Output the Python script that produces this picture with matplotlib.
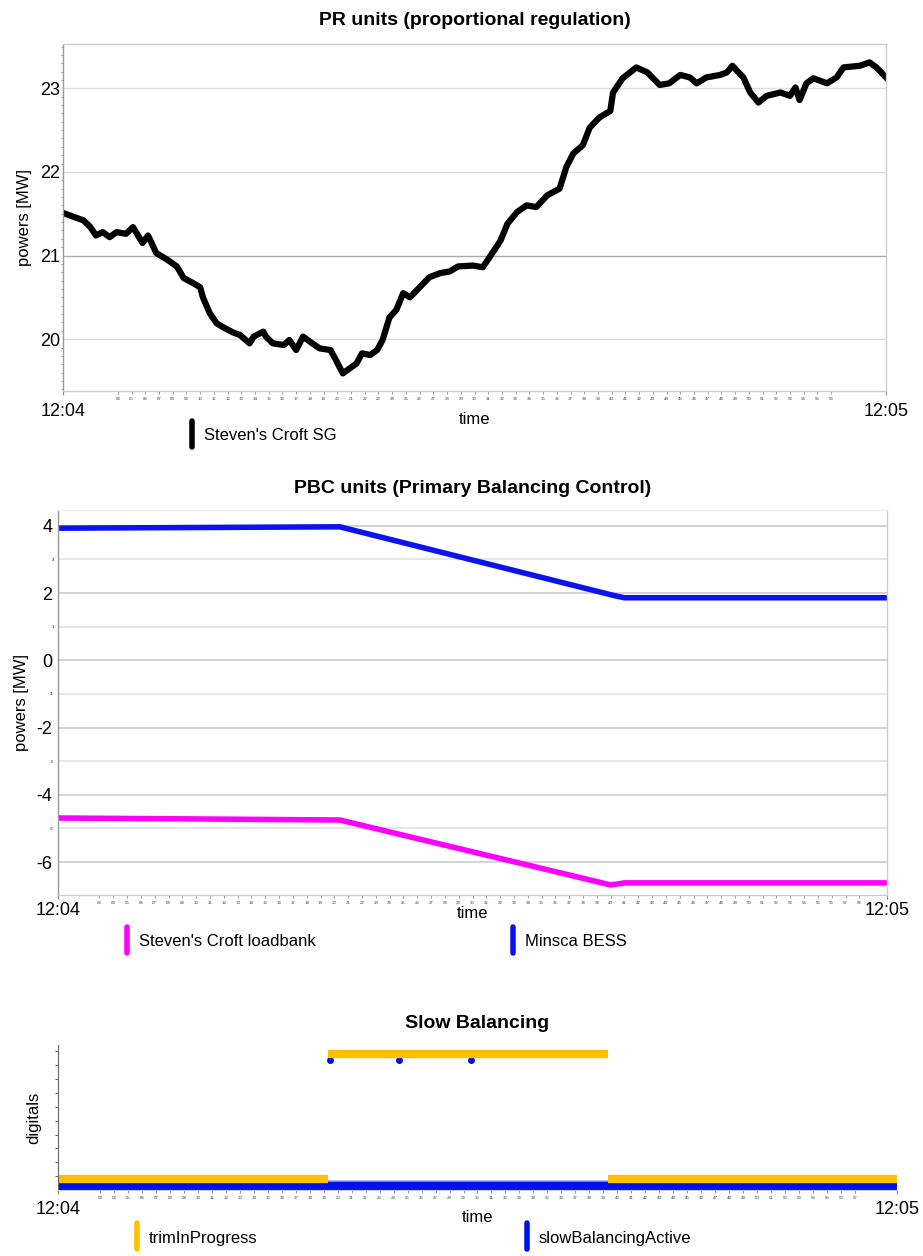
import matplotlib
matplotlib.use("Agg")
import matplotlib.pyplot as plt
from matplotlib.lines import Line2D
import numpy as np

plt.rcParams['font.family'] = ['Liberation Sans', 'DejaVu Sans']
plt.rcParams['axes.unicode_minus'] = False

# --- data (seconds after 12:04) ---
pr_t = [0, 1, 1.5, 2, 2.4, 2.9, 3.4, 3.9, 4.6, 5.1, 5.8, 6.2, 6.8, 7.6, 8.3, 8.8,
        9.5, 10, 10.2, 10.7, 11.2, 11.7, 12.4, 12.9, 13.6, 13.9, 14.6, 14.8, 15.3,
        16.1, 16.5, 17, 17.5, 18, 18.7, 19.5, 19.9, 20.4, 20.9, 21.4, 21.8, 22.4,
        22.9, 23.3, 23.8, 24.3, 24.8, 25.3, 26, 26.7, 27.5, 28.2, 28.8, 29.9, 30.6,
        31.1, 31.9, 32.4, 33.1, 33.8, 34.5, 35.3, 36.2, 36.7, 37.2, 37.9, 38.4,
        39.1, 39.9, 40.1, 40.8, 41.8, 42.6, 43.5, 44.2, 45, 45.7, 46.2, 46.9, 47.9,
        48.4, 48.8, 49.6, 50.1, 50.7, 51.3, 52.3, 53, 53.4, 53.7, 54.2, 54.7, 55.7,
        56.4, 56.9, 58.1, 58.8, 59.3, 60]
pr_sg = [21.51, 21.45, 21.42, 21.34, 21.24, 21.28, 21.22, 21.28, 21.26, 21.34,
         21.15, 21.24, 21.03, 20.95, 20.87, 20.73, 20.67, 20.62, 20.50, 20.31,
         20.19, 20.14, 20.08, 20.05, 19.95, 20.03, 20.09, 20.03, 19.95, 19.93,
         19.99, 19.87, 20.03, 19.97, 19.89, 19.87, 19.75, 19.59, 19.65, 19.71,
         19.83, 19.81, 19.87, 19.99, 20.26, 20.35, 20.55, 20.50, 20.62, 20.74,
         20.79, 20.81, 20.87, 20.88, 20.86, 20.98, 21.18, 21.38, 21.52, 21.60,
         21.58, 21.72, 21.80, 22.06, 22.22, 22.32, 22.53, 22.65, 22.73, 22.95,
         23.12, 23.25, 23.19, 23.04, 23.06, 23.16, 23.13, 23.06, 23.13, 23.16,
         23.19, 23.27, 23.13, 22.95, 22.83, 22.91, 22.95, 22.91, 23.01, 22.86,
         23.06, 23.12, 23.06, 23.13, 23.25, 23.27, 23.31, 23.25, 23.13]

pbc_t = [0, 10.5, 20.4, 40.3, 41.0, 60]
bess = [3.93, 3.95, 3.97, 1.92, 1.86, 1.86]
loadbank_t = [0, 10.5, 20.4, 40.0, 41.0, 60]
loadbank = [-4.69, -4.72, -4.75, -6.68, -6.62, -6.62]

trim_t = [0, 19.3, 39.3, 60]       # segment edges
trim_v = [0, 1, 0]                 # value within each segment
sba_t = [0, 60]
sba_v = [0, 0]
sba_pulse_t = [19.45, 24.4, 29.5]
sba_pulse_v = [1, 1, 1]

W, H = 923, 1256
fig = plt.figure(figsize=(W / 100, H / 100), dpi=100)


def fx(px):
    return px / W


def fy(py):
    return 1 - py / H


def time_axis(ax, first, last, pad, labelpad):
    ax.set_xlim(0, 60)
    ax.set_xticks([0, 60], ['12:04', '12:05'])
    secs = list(range(first, last + 1))
    ax.set_xticks(secs, ['%02d' % s for s in secs], minor=True)
    ax.tick_params(axis='x', which='major', labelsize=13, pad=pad, length=3,
                   color='#888888')
    ax.tick_params(axis='x', which='minor', labelsize=3.2, pad=2, length=2,
                   color='#888888', labelcolor='#444444')
    ax.set_xlabel('time', fontsize=12, labelpad=labelpad)


def frame(ax, color='#cccccc'):
    for s in ax.spines.values():
        s.set_color(color)
        s.set_linewidth(1)
    ax.spines['left'].set_color('#999999')
    ax.spines['left'].set_linestyle((0, (1, 1)))


def legend_item(x, y, color, text):
    fig.add_artist(Line2D([fx(x), fx(x)], [fy(y - 13), fy(y + 13)],
                          color=color, lw=4, solid_capstyle='round',
                          transform=fig.transFigure))
    fig.text(fx(x + 12), fy(y + 2), text, fontsize=12, va='center', ha='left')


# --- panel 1 ---
ax1 = fig.add_axes([fx(63), fy(391), fx(886 - 63), (391 - 44) / H])
ax1.plot(pr_t, pr_sg, color='black', lw=4.5, solid_joinstyle='round')
ax1.set_ylim(19.38, 23.53)
ax1.set_yticks([20, 21, 22, 23])
ax1.set_yticks(np.arange(19.4, 23.55, 0.1), minor=True)
ax1.tick_params(axis='y', which='major', labelsize=13, length=0, pad=2)
ax1.tick_params(axis='y', which='minor', length=1.5, color='#888888')
for v in [20, 21, 22, 23]:
    ax1.axhline(v, color='#aaaaaa' if v == 21 else '#dddddd', lw=1, zorder=0)
ax1.set_ylabel('powers [MW]', fontsize=12, labelpad=6)
time_axis(ax1, 4, 56, 6, -6)
frame(ax1)
ax1.set_title('PR units (proportional regulation)', fontsize=14,
              fontweight='bold', pad=14)
legend_item(192, 434, 'black', "Steven's Croft SG")

# --- panel 2 ---
ax2 = fig.add_axes([fx(58), fy(895), fx(887 - 58), (895 - 510) / H])
ax2.plot(pbc_t, bess, color='#0a14f0', lw=4)
ax2.plot(loadbank_t, loadbank, color='#ff00ff', lw=4)
ax2.set_ylim(-6.98, 4.47)
ax2.set_yticks([-6, -4, -2, 0, 2, 4])
ax2.set_yticks([-5, -3, -1, 1, 3], ['-5', '-3', '-1', '1', '3'], minor=True)
ax2.tick_params(axis='y', which='major', labelsize=13, length=0, pad=4)
ax2.tick_params(axis='y', which='minor', labelsize=3, length=0, pad=3)
for v in range(-6, 5):
    ax2.axhline(v, color='#cccccc' if v % 2 == 0 else '#e2e2e2', lw=1.2,
                zorder=0)
ax2.set_ylabel('powers [MW]', fontsize=12, labelpad=5)
time_axis(ax2, 3, 58, 2, -9)
frame(ax2)
ax2.spines['top'].set_color('#eeeeee')
ax2.set_title('PBC units (Primary Balancing Control)', fontsize=14,
              fontweight='bold', pad=12)
legend_item(127, 940, '#ff00ff', "Steven's Croft loadbank")
legend_item(513, 940, '#0a14f0', 'Minsca BESS')

# --- panel 3 ---
ax3 = fig.add_axes([fx(58), fy(1190), fx(897 - 58), (1190 - 1045) / H])
ax3.set_ylim(-0.03, 1.12)
ax3.plot(sba_t, sba_v, color='#9a9aff', lw=9, solid_capstyle='butt')
ax3.plot(sba_t, sba_v, color='#0010e8', lw=6, solid_capstyle='butt')
ax3.plot(sba_pulse_t, sba_pulse_v, 'o', color='#0010e8', ms=4)
for i, v in enumerate(trim_v):
    ax3.plot([trim_t[i], trim_t[i + 1]], [v + 0.055 - 0.007 * v] * 2,
             color='#ffc000', lw=6, solid_capstyle='butt')
ax3.set_yticks(np.arange(0.08, 1.12, 0.11))
ax3.tick_params(axis='y', which='major', labelleft=False, length=2,
                color='#666666')
ax3.set_ylabel('digitals', fontsize=12, labelpad=10)
time_axis(ax3, 3, 57, 5, -6)
for s in ['top', 'right']:
    ax3.spines[s].set_visible(False)
ax3.spines['left'].set_color('#666666')
ax3.spines['bottom'].set_color('#cccccc')
ax3.set_title('Slow Balancing', fontsize=14, fontweight='bold', pad=12)
legend_item(137, 1236, '#ffc000', 'trimInProgress')
legend_item(527, 1236, '#0010e8', 'slowBalancingActive')

fig.savefig('out.png', dpi=100)
